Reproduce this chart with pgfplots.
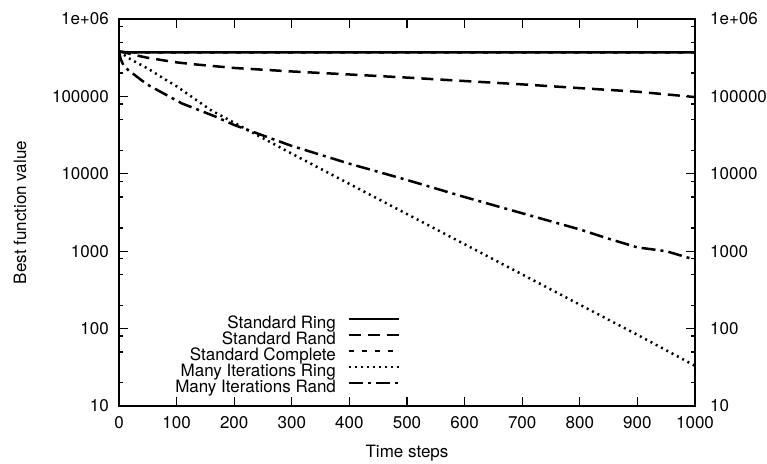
\documentclass[border=0pt]{standalone}
\usepackage{fontspec}
\setmainfont{TeX Gyre Heros}
\usepackage{pgfplots}
\pgfplotsset{compat=1.18}
\begin{document}
\begin{tikzpicture}[font=\fontsize{17bp}{20bp}\selectfont]
\begin{axis}[
  width=576bp, height=387bp, scale only axis,
  xmin=0, xmax=1000, ymode=log, ymin=10, ymax=1000000,
  tick align=inside,
  major tick length=9bp, minor tick length=4.5bp,
  ytick={10,100,1000,10000,100000,1000000},
  yticklabels={10,100,1000,10000,100000,1e+06},
  axis line style={line width=1.5bp},
  tick style={black, line width=1.3bp},
  tick pos=both,
  xtick={0,100,200,300,400,500,600,700,800,900,1000},
  xticklabels={0,100,200,300,400,500,600,700,800,900,1000},
  minor ytick={20,50,80,200,500,800,2000,5000,8000,20000,50000,80000,200000,500000,800000},
  yticklabel style={anchor=east, inner sep=0pt, xshift=-10bp},
  xticklabel style={anchor=north, inner sep=0pt, yshift=-10bp},
  xlabel={Time steps},
  ylabel={Best function value},
  xlabel style={at={(axis description cs:0.5,-0.1318)}, anchor=base},
  ylabel style={at={(axis description cs:-0.172,0.5)}, anchor=center},
  legend plot pos=right,
  legend cell align=right,
  legend image code/.code={\draw[#1] (0bp,5bp) -- (50bp,5bp);},
  legend style={at={(0.488,0.025)}, anchor=south east, draw=none, fill=none,
    inner sep=0pt, column sep=11bp, row sep=0pt,
    nodes={inner sep=0.5bp, text height=12bp, text depth=3bp}},
]
\coordinate (O) at (rel axis cs:0,0);
% Standard Ring
\addplot[black, line width=2.5bp, solid] coordinates {(0,380000) (10,372000) (100,370000) (500,370000) (1000,370000)};
\addlegendentry{Standard Ring}
% Standard Rand
\addplot[black, line width=2.5bp, dash pattern=on 12bp off 7bp] coordinates {
(0,380000) (10,370000) (25,345000) (50,315000) (80,290000) (100,275000) (137,257000)
(200,233000) (300,210000) (400,192000) (500,175000) (600,158000) (700,143000)
(800,128000) (900,115000) (1000,98000)};
\addlegendentry{Standard Rand}
% Standard Complete
\addplot[black, line width=2.5bp, dash pattern=on 5bp off 8bp] coordinates {(0,380000) (10,372000) (100,370000) (500,370000) (1000,370000)};
\addlegendentry{Standard Complete}
% Many Iterations Ring
\addplot[black, line width=2.5bp, dash pattern=on 2bp off 4bp] coordinates {
(0,380000) (10,339000) (20,302000) (50,229000) (80,166000) (100,135000) (160,66100)
(200,45700) (300,18200) (400,7410) (500,3020) (600,1230) (700,501) (800,204)
(900,83.2) (1000,33.1)};
\addlegendentry{Many Iterations Ring}
% Many Iterations Rand
\addplot[black, line width=2.5bp, dash pattern=on 14bp off 5bp on 3bp off 5bp] coordinates {
(0,380000) (3,302000) (8,251000) (16,219000) (39,162000) (50,141000) (109,81300)
(167,55000) (200,42700) (300,22900) (400,13500) (500,8320) (600,5010) (700,3090)
(800,1910) (850,1450) (900,1120) (950,1000) (1000,776)};
\addlegendentry{Many Iterations Rand}
\end{axis}
\begin{axis}[
  width=576bp, height=387bp, scale only axis,
  xmin=0, xmax=1000, ymode=log, ymin=10, ymax=1000000,
  ytick={10,100,1000,10000,100000,1000000},
  yticklabels={10,100,1000,10000,100000,1e+06},
  axis y line*=right, hide x axis,
  ytick style={draw=none}, minor ytick={},
  yticklabel style={anchor=west, inner sep=0pt, xshift=15bp},
]
\addplot[draw=none] coordinates {(0,10) (1000,1000000)};
\end{axis}
\pgfresetboundingbox
\path (O) ++(-119bp,-58bp) rectangle ++(767bp,464bp);
\end{tikzpicture}
\end{document}
